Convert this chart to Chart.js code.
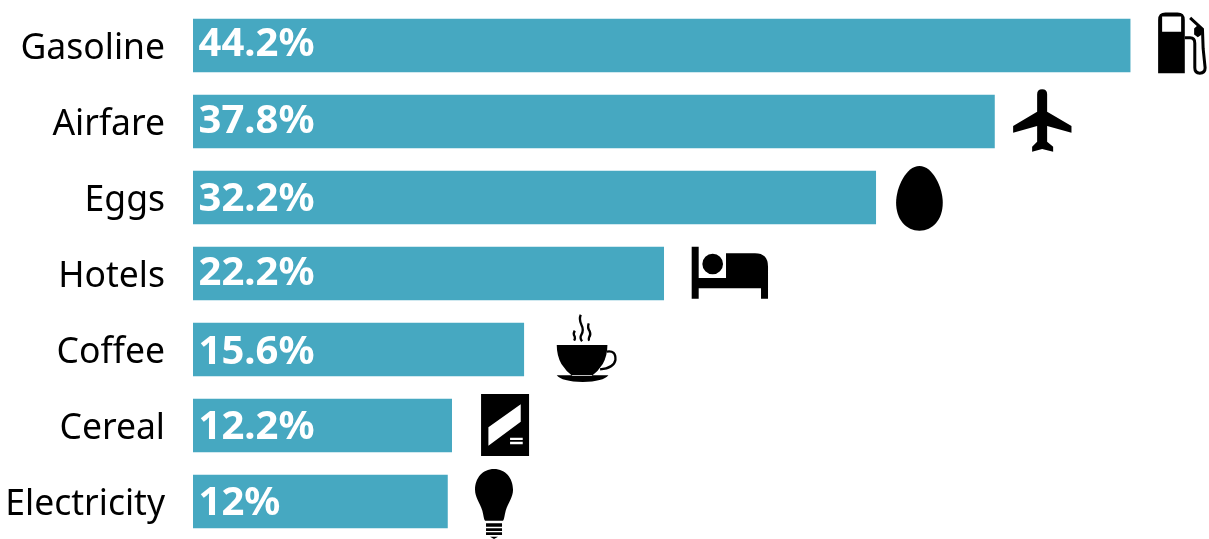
<!DOCTYPE html>
<html lang="en">
  <head>
    <meta charset="UTF-8" />
    <title>Price increases</title>
    <style>
      html, body { margin: 0; padding: 0; background: #fff; overflow: hidden; }
      canvas { display: block; }
    </style>
  </head>
  <body>
    <canvas id="myChart" width="1209" height="540"></canvas>
    <script src="https://cdn.jsdelivr.net/npm/chart.js"></script>
    <script>
      const categories = ["Gasoline", "Airfare", "Eggs", "Hotels", "Coffee", "Cereal", "Electricity"];
      const increases = [44.2, 37.8, 32.2, 22.2, 15.6, 12.2, 12];
      const iconNames = ["pump", "plane", "egg", "bed", "cup", "box", "bulb"];
      const axisMax = 47.92;

      // the value texts do not sit at quite the same height in every bar
      const valueTextShift = [-0.5, 0.5, 2.5, 0.5, 3.5, 2.5, 2.5];

      // icon outlines are drawn on a 3x grid, dx/dy is the gap from the bar end and bar middle
      const icons = {
        pump: {
          dx: 28, dy: -33,
          fill: "M0 182V22Q0 0 22 0H58Q80 0 80 22V182ZM12 12V58H69V12Z M108 48L118 39L131 50V66L119 74L108 66Z",
          stroke: "M80 76H96Q110 76 110 92V166Q110 182 125 182Q141 182 141 166L135 108L133 50L96 16",
          width: 9,
        },
        plane: {
          dx: 18.7, dy: -32.2,
          fill: "M72 15Q72 0 87 0Q102 0 102 15V67L175 110V130L102 110V157L120 172V187L87 179L57 187V172L72 157V110L0 130V110L72 67Z",
        },
        egg: {
          dx: 20.4, dy: -31.5,
          fill: "M70 0C110 0 140 65 140 110C140 160 110 194 70 194C30 194 0 160 0 110C0 65 30 0 70 0Z",
        },
        bed: {
          dx: 28, dy: -26.8,
          fill: "M0 0H21V94H103V20H190Q229 20 229 60V156H208V125H21V156H0Z M94 52A31 31 0 1 0 32 52A31 31 0 1 0 94 52Z",
        },
        cup: {
          dx: 33, dy: -35.5,
          fill: "M0 93H152Q152 125 138 150Q124 172 105 186H47Q28 172 14 150Q0 125 0 93Z M0 184H155Q140 203 78 204Q15 203 0 184Z",
          stroke: "M150 113Q178 108 176 138Q172 162 130 166 M72 2Q66 15 74 32Q82 48 74 62Q68 72 76 82 M54 50Q48 60 54 68Q56 74 52 80 M96 28Q91 40 99 52Q103 62 97 70Q95 76 97 80",
          width: 7,
        },
        box: {
          dx: 29.4, dy: -31.5,
          fill: "M0 0H144V186H0ZM22 100L119 31V83L22 155ZM87 131H125V138H87ZM87 143H125V151H87Z",
        },
        bulb: {
          dx: 27.6, dy: -32.5,
          fill: "M57 0C92 0 114 28 114 62C114 85 100 100 92 125C88 140 88 150 84 155H30C26 150 26 140 22 125C14 100 0 85 0 62C0 28 22 0 57 0Z M33 163H81V173H33Z M33 178H81V186H33Z M33 190H81V198H33Z M45 203H69L57 210Z",
        },
      };

      // value text inside each bar and the icon after its end
      const barExtras = {
        id: "barExtras",
        afterDatasetsDraw(chart) {
          const { ctx } = chart;
          chart.getDatasetMeta(0).data.forEach((bar, i) => {
            ctx.save();
            ctx.fillStyle = "#fff";
            ctx.font = "bold 40px 'Noto Sans'";
            ctx.textAlign = "left";
            ctx.textBaseline = "middle";
            ctx.fillText(increases[i] + "%", bar.base + 5.5, bar.y + valueTextShift[i]);

            const icon = icons[iconNames[i]];
            ctx.translate(bar.x + icon.dx, bar.y + icon.dy);
            ctx.scale(1 / 3, 1 / 3);
            ctx.fillStyle = "#000";
            ctx.fill(new Path2D(icon.fill), "evenodd");
            if (icon.stroke) {
              ctx.strokeStyle = "#000";
              ctx.lineWidth = icon.width;
              ctx.stroke(new Path2D(icon.stroke));
            }
            ctx.restore();
          });
        },
      };

      const ctx = document.getElementById("myChart").getContext("2d");
      const myChart = new Chart(ctx, {
        type: "bar",
        data: {
          labels: categories,
          datasets: [
            {
              data: increases,
              backgroundColor: "#46a8c1",
              barThickness: 53,
            },
          ],
        },
        plugins: [barExtras],
        options: {
          indexAxis: "y",
          responsive: false,
          animation: false,
          layout: { padding: { top: 7.5, bottom: 0.5, left: 0, right: 0 } },
          plugins: { legend: { display: false }, tooltip: { enabled: false } },
          scales: {
            x: { display: false, min: 0, max: axisMax },
            y: {
              grid: { display: false },
              border: { display: false },
              afterFit(scale) {
                scale.width = 193;
                // the top and bottom labels should not push the plot inwards
                scale.paddingTop = 0;
                scale.paddingBottom = 0;
              },
              ticks: {
                color: "#000",
                padding: 20,
                labelOffset: 3,
                font: { family: "'Noto Sans'", size: 35.5 },
              },
            },
          },
        },
      });
    </script>
  </body>
</html>
